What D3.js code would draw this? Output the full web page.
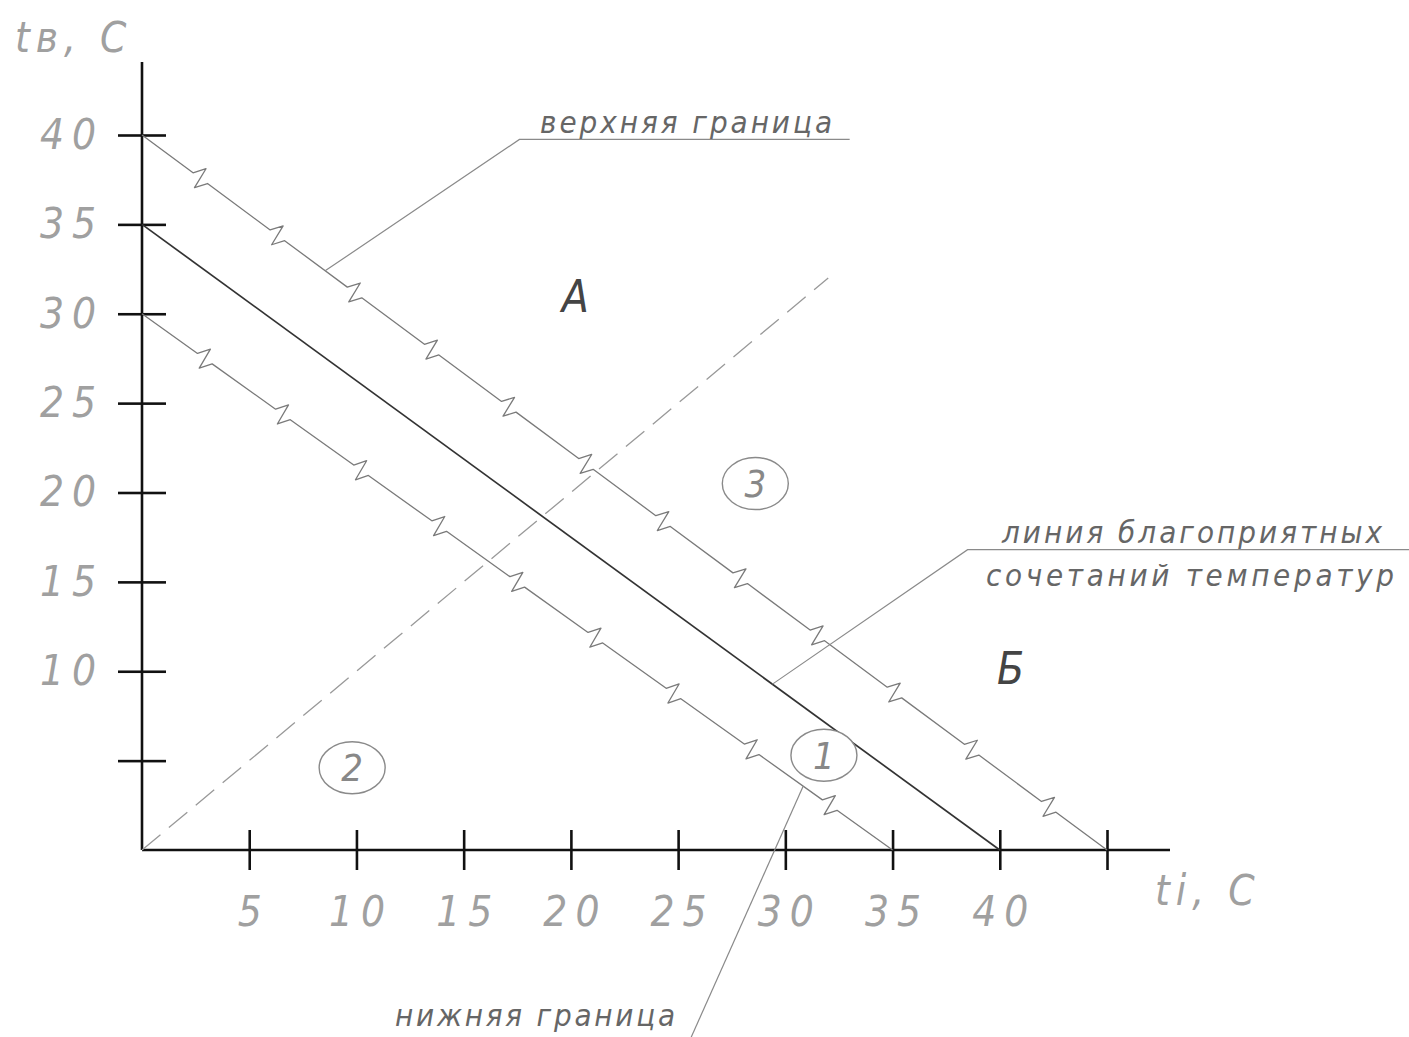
<!DOCTYPE html>
<html>
<head>
<meta charset="utf-8">
<script src="https://cdn.jsdelivr.net/npm/d3@7"></script>
<style>
  body { margin: 0; background: #fff; }
  text { font-family: "Liberation Sans Narrow", "DejaVu Sans Condensed", "Liberation Sans", sans-serif; font-style: italic; }
</style>
</head>
<body>
<svg id="chart" width="1409" height="1037"></svg>
<script>
// axis ticks (ti along x, tв along y)
var xTicks = [5, 10, 15, 20, 25, 30, 35, 40, 45];
var yTicks = [5, 10, 15, 20, 25, 30, 35, 40];
var xLabeled = [5, 10, 15, 20, 25, 30, 35, 40];
var yLabeled = [10, 15, 20, 25, 30, 35, 40];

// lines as [ti, tв] end points
var upperLine = [[0, 40], [45, 0]];
var comfortLine = [[0, 35], [40, 0]];
var lowerLine = [[0, 30], [35, 0]];
var splitLine = [[0, 0], [32, 32]];

// zone markers and region letters
var zoneMarks = [
  { label: "1", ti: 31.8, tv: 5.3 },
  { label: "2", ti: 9.8, tv: 4.6 },
  { label: "3", ti: 28.6, tv: 20.5 }
];
var regionLetters = [
  { label: "А", ti: 20.2, tv: 31 },
  { label: "Б", ti: 40.5, tv: 10.2 }
];

// leaders: from the line out to the note
var upperLeader = [[8.54, 32.4], [17.6, 39.75], [33.0, 39.75]];
var comfortLeader = [[29.4, 9.28], [38.5, 16.8], [59.1, 16.8]];
var lowerLeader = [[30.83, 3.57], [25.6, -10.5]];

var svg = d3.select("#chart");

var x = d3.scaleLinear().domain([0, 45]).range([142, 1107]);
var y = d3.scaleLinear().domain([0, 40]).range([850, 135]);

var line = d3.line().x(d => x(d[0])).y(d => y(d[1]));

// axis lines
svg.append("line")
  .attr("x1", x(0)).attr("y1", y(0))
  .attr("x2", x(0)).attr("y2", 62)
  .attr("stroke", "#111").attr("stroke-width", 2.6);
svg.append("line")
  .attr("x1", x(0)).attr("y1", y(0))
  .attr("x2", 1170).attr("y2", y(0))
  .attr("stroke", "#111").attr("stroke-width", 2.6);

// ticks crossing the axes
var yLeft = svg.append("g")
  .attr("transform", `translate(${x(0)},0)`)
  .call(d3.axisLeft(y).tickValues(yTicks).tickSize(24).tickPadding(14)
    .tickFormat(d => yLabeled.indexOf(d) >= 0 ? d : ""));
var yRight = svg.append("g")
  .attr("transform", `translate(${x(0)},0)`)
  .call(d3.axisRight(y).tickValues(yTicks).tickSize(24).tickFormat(""));

var xBottom = svg.append("g")
  .attr("transform", `translate(0,${y(0)})`)
  .call(d3.axisBottom(x).tickValues(xTicks).tickSize(20).tickPadding(26)
    .tickFormat(d => xLabeled.indexOf(d) >= 0 ? d : ""));
var xTop = svg.append("g")
  .attr("transform", `translate(0,${y(0)})`)
  .call(d3.axisTop(x).tickValues(xTicks).tickSize(20).tickFormat(""));

[yLeft, yRight, xBottom, xTop].forEach(g => {
  g.select(".domain").remove();
  g.selectAll(".tick line").attr("stroke", "#111").attr("stroke-width", 2.6);
  g.selectAll(".tick text")
    .attr("font-family", null)
    .attr("font-size", 42)
    .attr("fill", "#a0a0a0")
    .attr("letter-spacing", 8);
});
xBottom.selectAll(".tick text").attr("dx", 4);

// axis titles
svg.append("text").attr("x", 15).attr("y", 52)
  .attr("font-size", 42).attr("fill", "#a0a0a0").attr("letter-spacing", 6)
  .text("tв, C");
svg.append("text").attr("x", 1155).attr("y", 905)
  .attr("font-size", 42).attr("fill", "#a0a0a0").attr("letter-spacing", 6)
  .text("ti, C");

// dashed split line
svg.append("path").datum(splitLine)
  .attr("d", line)
  .attr("fill", "none").attr("stroke", "#999").attr("stroke-width", 1.3)
  .attr("stroke-dasharray", "24,11");

// comfort line
svg.append("path").datum(comfortLine)
  .attr("d", line)
  .attr("fill", "none").attr("stroke", "#333").attr("stroke-width", 1.7);

// boundary lines drawn with a break (zigzag) linetype
var period = 96;
function zigzagPath(seg) {
  var x0 = x(seg[0][0]), y0 = y(seg[0][1]);
  var x1 = x(seg[1][0]), y1 = y(seg[1][1]);
  var L = Math.hypot(x1 - x0, y1 - y0);
  var ux = (x1 - x0) / L, uy = (y1 - y0) / L;
  var nx = uy, ny = -ux;
  var n = Math.floor(L / period);
  var off = (L - (n - 1) * period) / 2;
  var shape = [[-9, 0], [-1, 11], [1, -11], [9, 0]];
  var p = d3.path();
  p.moveTo(x0, y0);
  for (var i = 0; i < n; i++) {
    var s = off + i * period;
    shape.forEach(q => {
      p.lineTo(x0 + ux * (s + q[0]) + nx * q[1], y0 + uy * (s + q[0]) + ny * q[1]);
    });
  }
  p.lineTo(x1, y1);
  return p.toString();
}
[upperLine, lowerLine].forEach(seg => {
  svg.append("path")
    .attr("d", zigzagPath(seg))
    .attr("fill", "none").attr("stroke", "#7a7a7a").attr("stroke-width", 1.3)
    .attr("stroke-linejoin", "round");
});

// leaders
[upperLeader, comfortLeader, lowerLeader].forEach(pts => {
  svg.append("path").datum(pts)
    .attr("d", line)
    .attr("fill", "none").attr("stroke", "#8a8a8a").attr("stroke-width", 1.2);
});

function note(txt, left, base, width) {
  svg.append("text").attr("x", left).attr("y", base)
    .attr("font-size", 31).attr("fill", "#666")
    .attr("textLength", width).attr("lengthAdjust", "spacing")
    .text(txt);
}
note("верхняя граница", 540, 133, 292);
note("линия благоприятных", 1002, 543, 380);
note("сочетаний температур", 986, 586, 408);
note("нижняя граница", 395, 1026, 280);

// zone circles
var zones = svg.selectAll(".zone").data(zoneMarks).enter().append("g")
  .attr("class", "zone")
  .attr("transform", d => `translate(${x(d.ti)},${y(d.tv)})`);
zones.append("ellipse")
  .attr("rx", 33).attr("ry", 26)
  .attr("fill", "#fff").attr("stroke", "#8a8a8a").attr("stroke-width", 1.4);
zones.append("text")
  .attr("text-anchor", "middle").attr("dy", "0.36em")
  .attr("font-size", 38).attr("fill", "#888")
  .text(d => d.label);

// region letters
svg.selectAll(".region").data(regionLetters).enter().append("text")
  .attr("class", "region")
  .attr("x", d => x(d.ti)).attr("y", d => y(d.tv))
  .attr("text-anchor", "middle").attr("dy", "0.36em")
  .attr("font-size", 44).attr("fill", "#444")
  .text(d => d.label);
</script>
</body>
</html>
